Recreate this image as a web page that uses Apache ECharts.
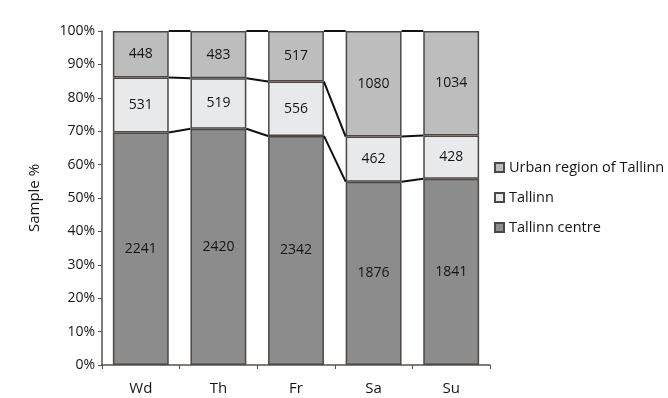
<!DOCTYPE html>
<html>
<head>
<meta charset="utf-8">
<script src="https://cdn.jsdelivr.net/npm/echarts@6/dist/echarts.min.js"></script>
<style>
  html, body { margin: 0; padding: 0; background: #fff; }
  #chart { width: 668px; height: 398px; }
</style>
</head>
<body>
<div id="chart"></div>
<script>
// Trip counts by day of week and destination zone
const days = ['Wd', 'Th', 'Fr', 'Sa', 'Su'];
const centreCounts = [2241, 2420, 2342, 1876, 1841];
const tallinnCounts = [531, 519, 556, 462, 428];
const urbanCounts = [448, 483, 517, 1080, 1034];
const yTicks = [0, 10, 20, 30, 40, 50, 60, 70, 80, 90, 100];

const totals = days.map((_, i) => centreCounts[i] + tallinnCounts[i] + urbanCounts[i]);
const pct = arr => arr.map((v, i) => ({ value: v / totals[i] * 100, count: v }));

const centrePct = pct(centreCounts);
const tallinnPct = pct(tallinnCounts);
const urbanPct = pct(urbanCounts);

// Cumulative stack boundaries (tops of each segment) for the connector lines
const boundaries = [
  centrePct.map(d => d.value),
  centrePct.map((d, i) => d.value + tallinnPct[i].value),
  days.map(() => 100)
];
const connectorData = [];
boundaries.forEach(b => {
  for (let i = 0; i < days.length - 1; i++) connectorData.push([i, b[i], b[i + 1]]);
});

const BAR_FRAC = 0.72;
const FONT = 'Open Sans';
const edge = '#4e4743';

const barLabel = {
  show: true,
  position: 'inside',
  color: '#151515',
  fontFamily: FONT,
  fontSize: 14,
  formatter: p => p.data.count
};

const chart = echarts.init(document.getElementById('chart'), null, { renderer: 'canvas' });
chart.setOption({
  animation: false,
  backgroundColor: '#fff',
  grid: { left: 102, right: 178, top: 31, bottom: 33 },
  legend: {
    orient: 'vertical',
    left: 494,
    top: 160,
    itemGap: 15,
    itemWidth: 9,
    itemHeight: 9,
    icon: 'rect',
    padding: 0,
    textStyle: { fontFamily: FONT, fontSize: 14.5, color: '#151515' },
    data: ['Urban region of Tallinn', 'Tallinn', 'Tallinn centre']
  },
  xAxis: {
    type: 'category',
    data: days,
    axisLine: { lineStyle: { color: '#5a504b', width: 1.5 } },
    axisTick: { show: true, length: 4, lineStyle: { color: '#5a504b' } },
    axisLabel: { fontFamily: FONT, fontSize: 15, color: '#151515', margin: 16 }
  },
  yAxis: {
    type: 'value',
    min: 0,
    max: 100,
    interval: 10,
    name: 'Sample %',
    nameLocation: 'middle',
    nameGap: 60,
    nameTextStyle: { fontFamily: FONT, fontSize: 15, color: '#151515' },
    axisLine: { show: true, lineStyle: { color: '#5a504b', width: 1.5 } },
    axisTick: { show: true, length: 4, lineStyle: { color: '#5a504b' } },
    splitLine: { show: false },
    axisLabel: {
      fontFamily: FONT, fontSize: 14, color: '#151515', margin: 7,
      formatter: v => yTicks.includes(v) ? v + '%' : ''
    }
  },
  series: [
    {
      name: 'Tallinn centre', type: 'bar', stack: 'all', barWidth: (BAR_FRAC * 100) + '%',
      itemStyle: { color: '#8c8c8c', borderColor: edge, borderWidth: 1.5 },
      label: barLabel, data: centrePct
    },
    {
      name: 'Tallinn', type: 'bar', stack: 'all',
      itemStyle: { color: '#e8e9ea', borderColor: edge, borderWidth: 1.5 },
      label: barLabel, data: tallinnPct
    },
    {
      name: 'Urban region of Tallinn', type: 'bar', stack: 'all',
      itemStyle: { color: '#bdbdbd', borderColor: edge, borderWidth: 1.5 },
      label: barLabel, data: urbanPct
    },
    {
      name: 'connectors', type: 'custom', silent: true, z: 5,
      data: connectorData,
      encode: { x: 0, y: 1 },
      renderItem: (params, api) => {
        const i = api.value(0);
        const half = api.size([1, 0])[0] * BAR_FRAC / 2;
        const a = api.coord([i, api.value(1)]);
        const b = api.coord([i + 1, api.value(2)]);
        return {
          type: 'line',
          shape: { x1: a[0] + half, y1: a[1], x2: b[0] - half, y2: b[1] },
          style: { stroke: '#111', lineWidth: 2 }
        };
      }
    }
  ]
});
</script>
</body>
</html>
